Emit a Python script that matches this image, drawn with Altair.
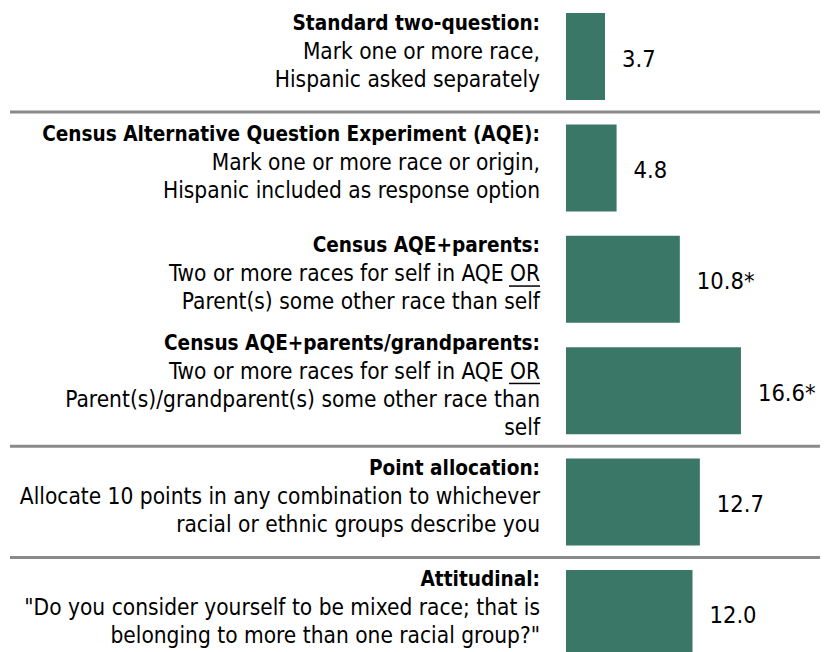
import altair as alt
import pandas as pd

# ---------------- data ----------------
keys = ["std", "aqe", "aqe_par", "aqe_gp", "points", "att"]
titles = [
    "Standard two-question:",
    "Census Alternative Question Experiment (AQE):",
    "Census AQE+parents:",
    "Census AQE+parents/grandparents:",
    "Point allocation:",
    "Attitudinal:",
]
descriptions = [
    ["Mark one or more race,", "Hispanic asked separately"],
    ["Mark one or more race or origin,", "Hispanic included as response option"],
    ["Two or more races for self in AQE OR", "Parent(s) some other race than self"],
    ["Two or more races for self in AQE OR",
     "Parent(s)/grandparent(s) some other race than", "self"],
    ["Allocate 10 points in any combination to whichever",
     "racial or ethnic groups describe you"],
    ['"Do you consider yourself to be mixed race; that is',
     'belonging to more than one racial group?"'],
]
values = [3.7, 4.8, 10.8, 16.6, 12.7, 12.0]
significant = [False, False, True, True, False, False]
separator_after = ["std", "aqe_gp", "points"]

# ---------------- tables ----------------
bars = pd.DataFrame({
    "key": keys,
    "value": values,
    "label": [f"{v:.1f}" + ("*" if s else "") for v, s in zip(values, significant)],
})

rows = []
for k, t, d in zip(keys, titles, descriptions):
    lines = [t] + d
    n = len(lines)
    for j, line in enumerate(lines):
        rows.append({
            "key": k, "text": line, "pos": j - (n - 1) / 2, "bold": j == 0,
            "underline": (j > 0 and line.endswith(" OR")),
        })
text_df = pd.DataFrame(rows)
sep_df = pd.DataFrame({"key": separator_after})

FONT = "DejaVu Sans Condensed, Liberation Sans Narrow, Roboto Condensed, sans-serif"
BAR = "#3a7767"

yscale = alt.Scale(domain=keys, range=[5, 649], paddingInner=0.219, paddingOuter=0)
xscale = alt.Scale(domain=[0, 20], range=[558, 768.8])
# line slots relative to band start (band centre = 43.5 px, block centre 5 px above)
offscale = alt.Scale(domain=[-2, 2], range=[-17.5, 94.5])

Y = alt.Y("key:N", scale=yscale, axis=None, sort=keys)

bar_layer = alt.Chart(bars).mark_bar(color=BAR, clip=True).encode(
    x=alt.X("value:Q", scale=xscale, axis=None),
    y=Y,
)

value_layer = alt.Chart(bars).mark_text(
    align="left", baseline="middle", dx=17, dy=3, font=FONT, fontSize=23.5, color="#000000"
).encode(
    x=alt.X("value:Q", scale=xscale, axis=None),
    y=Y,
    text="label:N",
)

title_layer = alt.Chart(text_df).transform_filter("datum.bold").mark_text(
    align="right", baseline="middle", font=FONT, fontSize=20.6, fontWeight="bold", color="#000000"
).encode(
    x=alt.value(532),
    y=Y,
    yOffset=alt.YOffset("pos:Q", scale=offscale),
    text="text:N",
)

desc_layer = alt.Chart(text_df).transform_filter("!datum.bold").mark_text(
    align="right", baseline="middle", font=FONT, fontSize=22.5, color="#000000"
).encode(
    x=alt.value(532),
    y=Y,
    yOffset=alt.YOffset("pos:Q", scale=offscale),
    text="text:N",
)

underline_layer = alt.Chart(text_df).transform_filter("datum.underline").transform_calculate(
    upos="datum.pos + 0.42"
).mark_rule(color="#000000", strokeWidth=1.5).encode(
    x=alt.value(501),
    x2=alt.value(532),
    y=Y,
    yOffset=alt.YOffset("upos:Q", scale=offscale),
)

rule_layer = alt.Chart(sep_df).mark_rule(color="#8a8a8a", strokeWidth=3, yOffset=12).encode(
    x=alt.value(2),
    x2=alt.value(812),
    y=alt.Y("key:N", scale=yscale, axis=None, sort=keys, bandPosition=1),
)

chart = alt.layer(
    rule_layer, bar_layer, value_layer, title_layer, desc_layer, underline_layer
).resolve_scale(
    yOffset="independent"
).properties(
    width=812,
    height=644,
    padding=0,
    autosize=alt.AutoSizeParams(type="none"),
).configure_view(stroke=None)

chart.save("out.html", embed_options={"renderer": "svg", "actions": False})
